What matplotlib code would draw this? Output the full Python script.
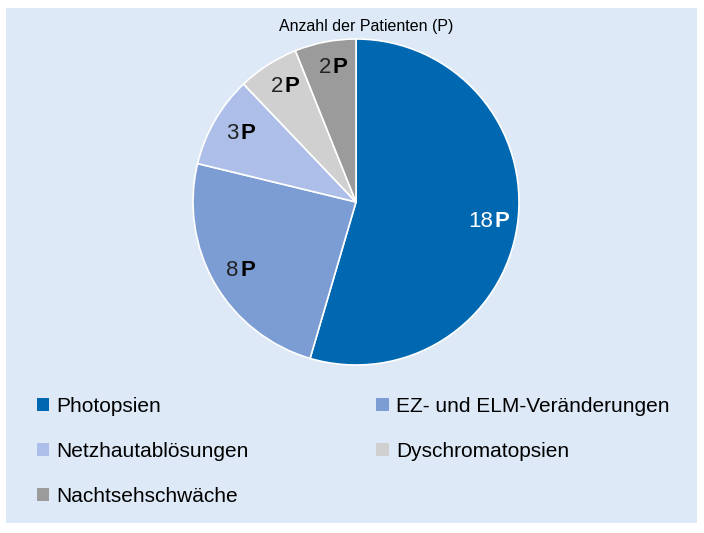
import numpy as np
import matplotlib
matplotlib.use("Agg")
import matplotlib.pyplot as plt
from matplotlib.patches import Rectangle, Patch

# data
categories = ["Photopsien", "EZ- und ELM-Veränderungen", "Netzhautablösungen",
              "Dyschromatopsien", "Nachtsehschwäche"]
patients = [18, 8, 3, 2, 2]
colors = ["#0067b1", "#7b9dd3", "#adbfe9", "#d0d0d0", "#9b9b9b"]
title = "Anzahl der Patienten (P)"

plt.rcParams["font.family"] = ["Liberation Sans", "DejaVu Sans"]

fig = plt.figure(figsize=(7.04, 5.33), dpi=100, facecolor="white")
fig.patches.append(Rectangle((6 / 704, 1 - 523 / 533), 691 / 704, 515 / 533,
                             transform=fig.transFigure, facecolor="#dde9f7",
                             edgecolor="none", zorder=-5))

ax = fig.add_axes([193 / 704, 1 - 365 / 533, 326 / 704, 326 / 533])
ax.set_zorder(2)
wedges, _ = ax.pie(patients, colors=colors, startangle=90, counterclock=False,
                   wedgeprops=dict(edgecolor="white", linewidth=1.2))
ax.set_xlim(-1, 1)
ax.set_ylim(-1, 1)
ax.axis("off")

for w, n in zip(wedges, patients):
    ang = np.deg2rad((w.theta1 + w.theta2) / 2)
    x, y = 0.84 * np.cos(ang), 0.84 * np.sin(ang)
    col = "white" if n == max(patients) else "#222222"
    pcol = "white" if n == max(patients) else "black"
    ax.annotate(str(n), (x, y), xytext=(1, 0), textcoords="offset points",
                ha="right", va="center", fontsize=16, color=col)
    ax.annotate("P", (x, y), xytext=(2, 0), textcoords="offset points",
                ha="left", va="center", fontsize=16, color=pcol, fontweight="bold")

fig.text(366 / 704, 1 - 26 / 533, title, ha="center", va="center", fontsize=11.5)

# legend filled row-wise like the original
order = [0, 2, 4, 1, 3]
handles = [Patch(facecolor=colors[i], edgecolor="none") for i in order]
fig.legend(handles, [categories[i] for i in order],
           ncol=2, loc="upper left", bbox_to_anchor=(18 / 704, 1 - 378 / 533),
           frameon=False, fontsize=15, handlelength=0.6, handleheight=0.6,
           handletextpad=0.35, labelspacing=1.25, columnspacing=6.1)

fig.savefig("out.png", dpi=100, facecolor="white")
